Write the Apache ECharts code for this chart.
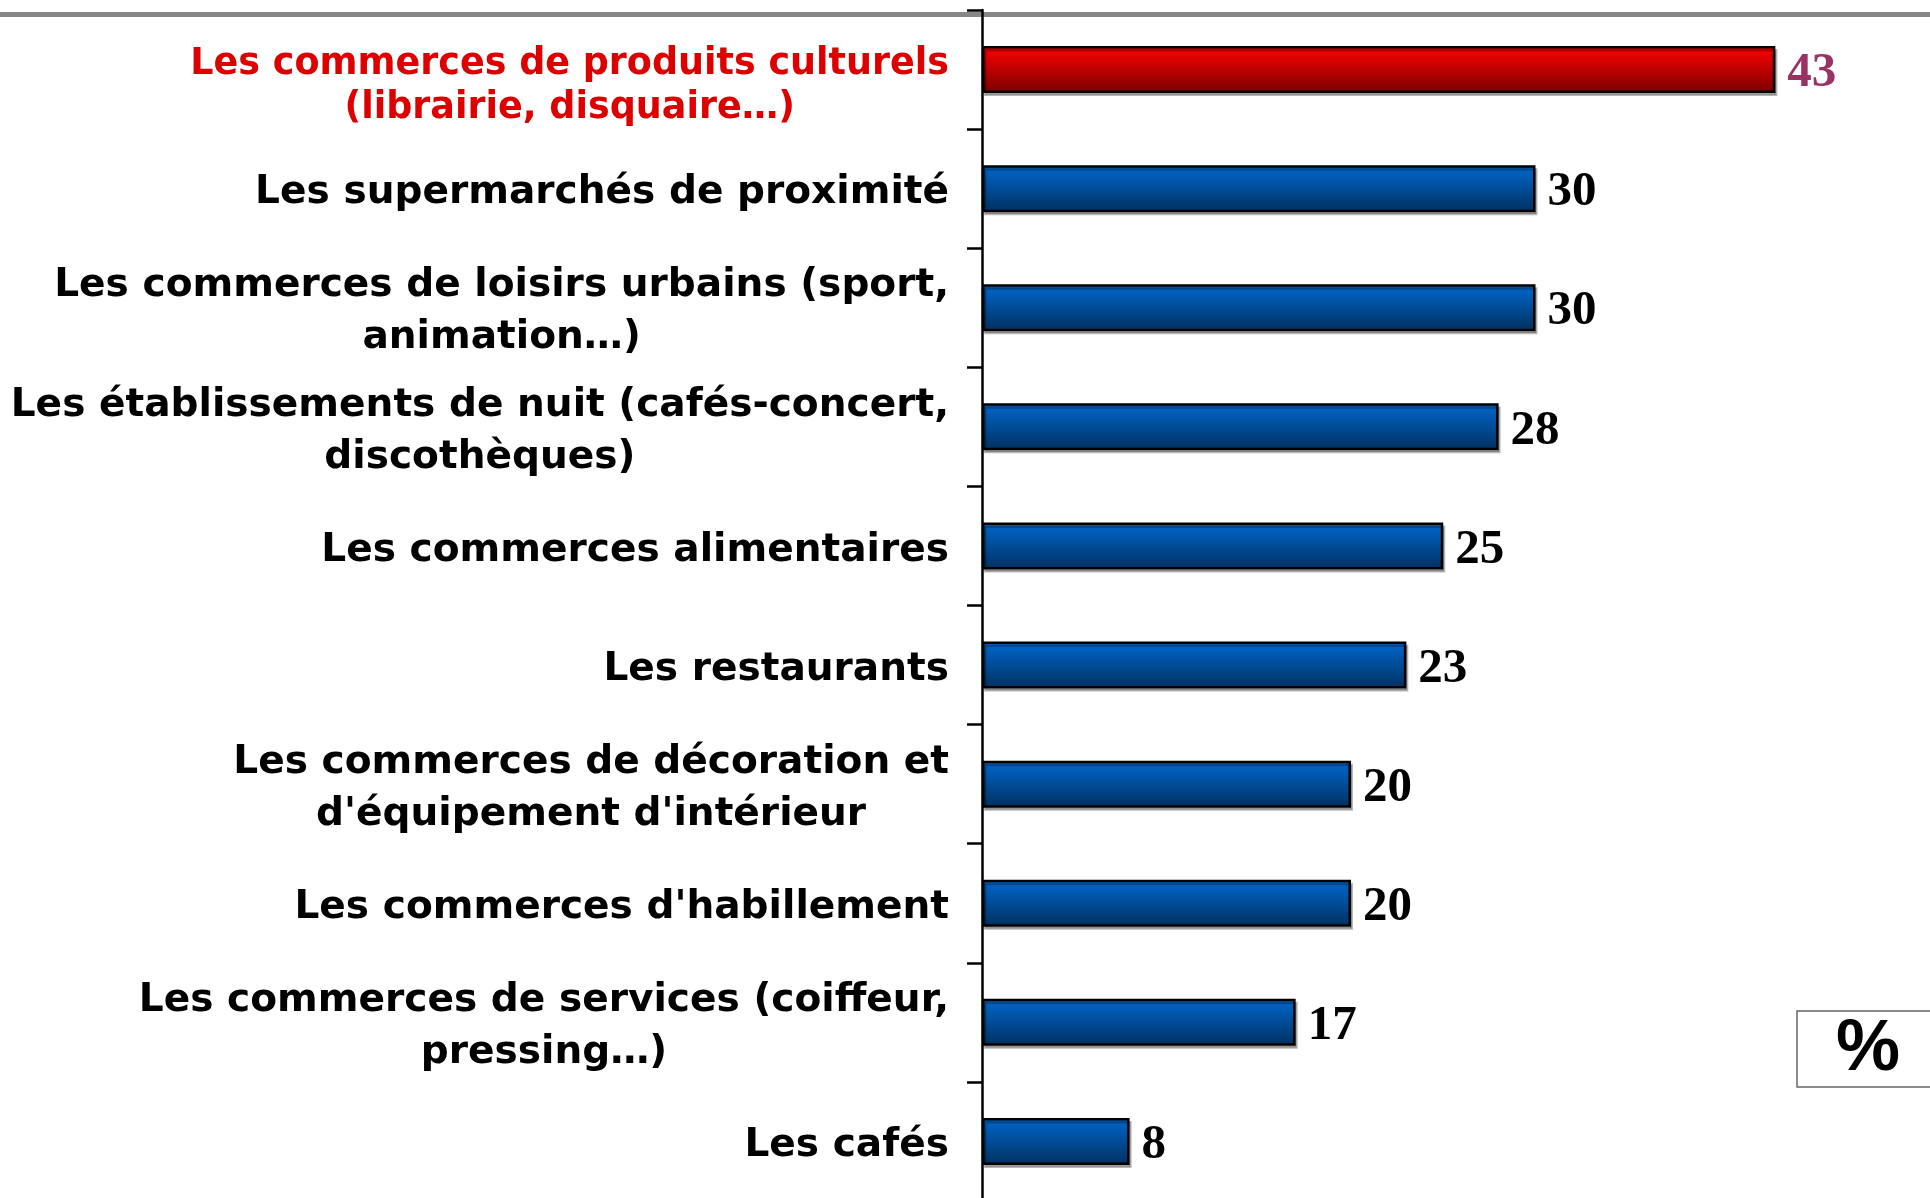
<!DOCTYPE html>
<html>
<head>
<meta charset="utf-8">
<script src="https://cdn.jsdelivr.net/npm/echarts@6/dist/echarts.min.js"></script>
<style>
  html, body { margin: 0; padding: 0; background: #fff; }
  #chart { width: 1930px; height: 1198px; }
</style>
</head>
<body>
<div id="chart"></div>
<script>
// categories top to bottom
const categories = [
  'Les commerces de produits culturels\n(librairie, disquaire…)',
  'Les supermarchés de proximité',
  'Les commerces de loisirs urbains (sport,\nanimation…)',
  'Les établissements de nuit (cafés-concert,\ndiscothèques)',
  'Les commerces alimentaires',
  'Les restaurants',
  'Les commerces de décoration et\nd\'équipement d\'intérieur',
  'Les commerces d\'habillement',
  'Les commerces de services (coiffeur,\npressing…)',
  'Les cafés'
];
const values = [43, 30, 30, 28, 25, 23, 20, 20, 17, 8];
const highlightIndex = 0;

const chart = echarts.init(document.getElementById('chart'));

const blueFill = new echarts.graphic.LinearGradient(0, 0, 0, 1, [
  { offset: 0, color: '#0068cf' },
  { offset: 1, color: '#00305f' }
]);
const redFill = new echarts.graphic.LinearGradient(0, 0, 0, 1, [
  { offset: 0, color: '#ff0000' },
  { offset: 1, color: '#7a0000' }
]);

// first label sits a bit lower than its band in the original
const yData = categories.map((c, i) => {
  if (i === highlightIndex) {
    return { value: c, textStyle: { padding: [34, 0, 0, 0] } };
  }
  return c;
});

const barData = values.map((v, i) => {
  const hl = i === highlightIndex;
  return {
    value: v,
    itemStyle: { color: hl ? redFill : blueFill },
    label: { color: hl ? '#993366' : '#000' }
  };
});

chart.setOption({
  backgroundColor: '#fff',
  animation: false,
  grid: {
    left: 982, right: 25.5, top: 10, bottom: -3,
    containLabel: false,
    outerBoundsMode: 'none'
  },
  xAxis: {
    type: 'value',
    min: 0,
    max: 50,
    show: false
  },
  yAxis: {
    type: 'category',
    inverse: true,
    data: yData,
    axisLine: { show: true, lineStyle: { color: '#000', width: 2.5 } },
    axisTick: { show: true, length: 15, lineStyle: { color: '#000', width: 2.5 } },
    axisLabel: {
      margin: 33,
      align: 'right',
      padding: [9, 0, 0, 0],
      formatter: function (val, idx) {
        const key = idx === highlightIndex ? 'r' : 'c';
        return val.split('\n').map(l => '{' + key + '|' + l + '}').join('\n');
      },
      rich: {
        c: {
          align: 'center',
          fontFamily: 'DejaVu Sans',
          fontWeight: 'bold',
          fontSize: 39.1,
          lineHeight: 52,
          color: '#000'
        },
        r: {
          align: 'center',
          fontFamily: 'DejaVu Sans',
          fontWeight: 'bold',
          fontSize: 36.5,
          lineHeight: 44,
          color: '#dc0000'
        }
      }
    },
    splitLine: { show: false }
  },
  series: [{
    type: 'bar',
    data: barData,
    barWidth: 47,
    itemStyle: {
      borderColor: '#000',
      borderWidth: 2.5,
      shadowColor: 'rgba(0,0,0,0.28)',
      shadowOffsetX: 2,
      shadowOffsetY: 3,
      shadowBlur: 0
    },
    label: {
      show: true,
      position: 'right',
      distance: 12,
      offset: [0, 4],
      fontFamily: 'Liberation Serif',
      fontWeight: 'bold',
      fontSize: 49
    }
  }],
  graphic: [
    {
      type: 'rect',
      z: -10,
      shape: { x: 0, y: 12, width: 1930, height: 5 },
      style: { fill: '#878787' }
    },
    {
      type: 'rect',
      shape: { x: 1797, y: 1011, width: 160, height: 76 },
      style: { fill: '#fff', stroke: '#666', lineWidth: 1.5 }
    },
    {
      type: 'text',
      x: 1868,
      y: 1050,
      style: {
        text: '%',
        fill: '#000',
        font: 'bold 72px "Liberation Sans"',
        align: 'center',
        verticalAlign: 'middle'
      }
    }
  ]
});
</script>
</body>
</html>
